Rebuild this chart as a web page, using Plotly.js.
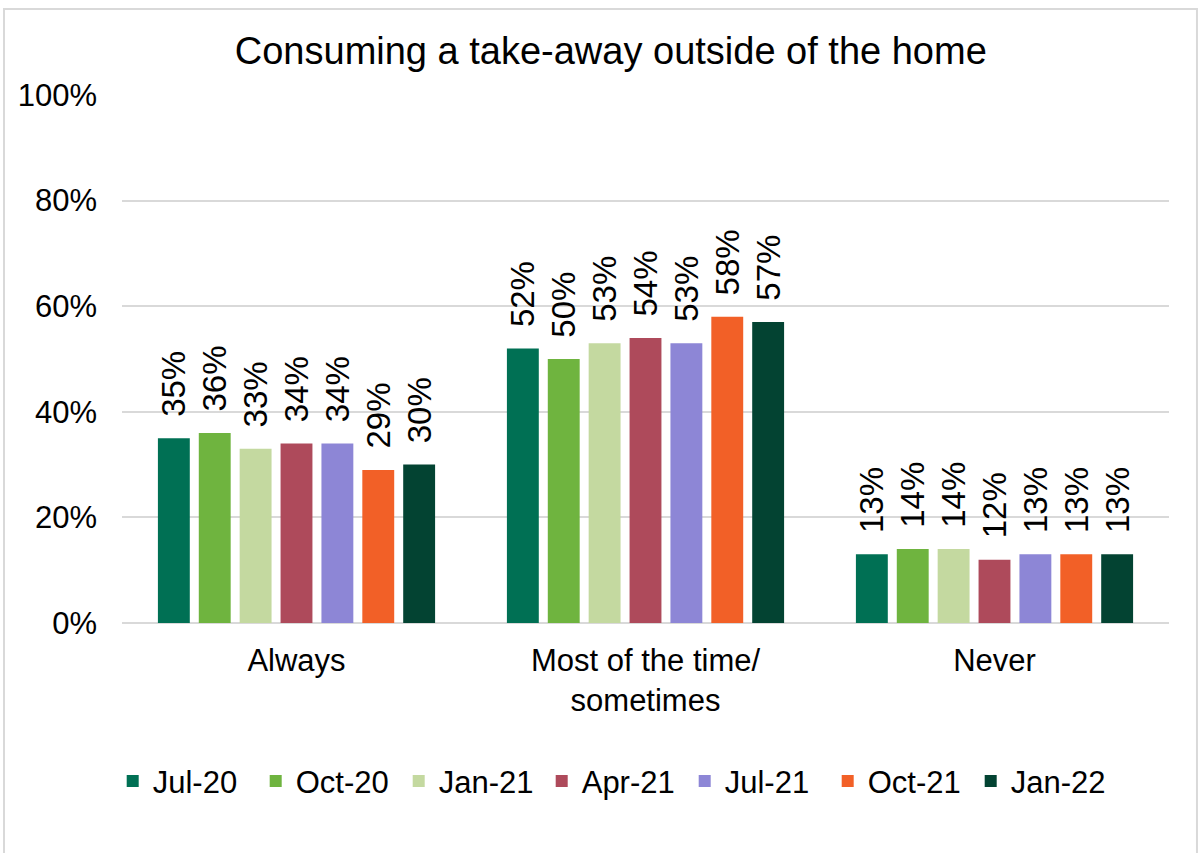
<!DOCTYPE html>
<html><head><meta charset="utf-8">
<script src="https://cdn.plot.ly/plotly-3.0.1.min.js"></script>
<style>body{margin:0;background:#fff}#c{width:1200px;height:853px}</style>
</head><body><div id="c"></div>
<script>
const categories = ["Always", "Most of the time/<br>sometimes", "Never"];
const seriesNames = ["Jul-20", "Oct-20", "Jan-21", "Apr-21", "Jul-21", "Oct-21", "Jan-22"];
const jul20 = [35, 52, 13];
const oct20 = [36, 50, 14];
const jan21 = [33, 53, 14];
const apr21 = [34, 54, 12];
const jul21 = [34, 53, 13];
const oct21 = [29, 58, 13];
const jan22 = [30, 57, 13];
const seriesValues = [jul20, oct20, jan21, apr21, jul21, oct21, jan22];
const colors = ["#007054", "#6fb43f", "#c4d9a0", "#ae4a5b", "#8d86d6", "#f26027", "#034332"];
const yTicks = [0, 20, 40, 60, 80, 100];

const traces = seriesNames.map((n, i) => ({
  type: 'bar', name: n, x: categories, y: seriesValues[i],
  marker: {color: colors[i]},
  text: seriesValues[i].map(v => '\u00a0\u00a0' + v + '%'),
  textposition: 'outside', textangle: -90, constraintext: 'none', cliponaxis: false,
  textfont: {family: 'Liberation Sans, Arial', size: 33, color: '#000'},
  hoverinfo: 'none'
}));

const layout = {
  width: 1200, height: 853,
  margin: {l: 122, r: 31, t: 95, b: 230, autoexpand: false},
  paper_bgcolor: '#fff', plot_bgcolor: '#fff',
  font: {family: 'Liberation Sans, Arial', size: 32, color: '#000'},
  title: {text: 'Consuming a take-away outside of the home', font: {size: 38, color: '#000'}, x: 0.509, xref: 'container', xanchor: 'center', y: 0.941, yref: 'container', yanchor: 'middle'},
  barmode: 'group', bargap: 0.18, bargroupgap: 0.22,
  xaxis: {type: 'category', showgrid: false, showline: false, ticks: '', tickfont: {size: 31}, automargin: false, ticklabelstandoff: 16},
  yaxis: {range: [0, 100], tickvals: yTicks, ticktext: yTicks.map(v => v + '%'), showgrid: true, gridcolor: '#d9d9d9', gridwidth: 2, zeroline: true, zerolinecolor: '#d9d9d9', zerolinewidth: 2, showline: false, ticks: '', ticklen: 0, tickfont: {size: 31}, automargin: false, ticklabelstandoff: 24},
  showlegend: true,
  legend: {orientation: 'h', xref: 'container', x: 0.511, xanchor: 'center', y: -0.30, yanchor: 'middle', font: {size: 31}, itemwidth: 30, entrywidth: 98, traceorder: 'normal'},
  shapes: [{type: 'rect', xref: 'paper', yref: 'paper', x0: -0.1127, x1: 1.0267, y0: -0.5, y1: 1.163, line: {color: '#d9d9d9', width: 2}, fillcolor: 'rgba(0,0,0,0)', layer: 'below'}]
};
Plotly.newPlot('c', traces, layout, {staticPlot: true});
</script></body></html>
